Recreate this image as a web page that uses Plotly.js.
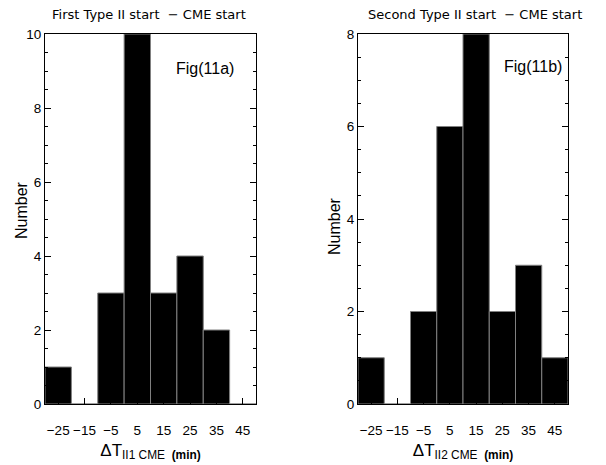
<!DOCTYPE html>
<html>
<head>
<meta charset="utf-8">
<script src="https://cdn.plot.ly/plotly-3.0.1.min.js"></script>
<style>html,body{margin:0;padding:0;background:#fff;}#chart{width:606px;height:465px;}</style>
</head>
<body>
<div id="chart"></div>
<script>
// Bin centres (minutes) and counts
const binCenters = [-25, -15, -5, 5, 15, 25, 35, 45];
const countsFirst = [1, 0, 3, 10, 3, 4, 2, 0];
const countsSecond = [1, 0, 2, 6, 8, 2, 3, 1];
const tickLabels = ["−25", "−15", "−5", "5", "15", "25", "35", "45"];
const titleFirst = "First Type II start  − CME start";
const titleSecond = "Second Type II start  − CME start";
const figLabelA = "Fig(11a)";
const figLabelB = "Fig(11b)";
const yTitle = "Number";

const W = 606, H = 465;
const px = v => v / W, py = v => 1 - v / H;
const font = "DejaVu Sans, Liberation Sans, sans-serif";
const font2 = "Liberation Sans, Arial, sans-serif";

const barStyle = {color: "#000", line: {color: "#808080", width: 1}};
const traces = [
  {type: "bar", x: binCenters, y: countsFirst, width: 10, marker: barStyle, xaxis: "x", yaxis: "y", hoverinfo: "x+y"},
  {type: "bar", x: binCenters, y: countsSecond, width: 10, marker: barStyle, xaxis: "x2", yaxis: "y2", hoverinfo: "x+y"}
];

function xAxis(domain, anchor, sub) {
  return {
    domain: domain, anchor: anchor, range: [-30, 50],
    tickmode: "array", tickvals: binCenters, ticktext: tickLabels,
    tickangle: 0,
    ticks: "inside", ticklen: 6, tickwidth: 1, tickcolor: "#000",
    showline: true, linecolor: "#000", linewidth: 1, mirror: true,
    showgrid: false, zeroline: false,
    ticklabelstandoff: 14,
    tickfont: {family: font2, size: 13.5, color: "#000"},
    title: {text: "ΔT<sub>" + sub + " CME  <b>(min)</b></sub>", font: {family: font2, size: 17, color: "#000"}, standoff: 6}
  };
}
function yAxis(domain, anchor, maxv) {
  return {
    domain: domain, anchor: anchor, range: [0, maxv],
    tickmode: "linear", tick0: 0, dtick: 2,
    ticks: "inside", ticklen: 6, tickwidth: 1, tickcolor: "#000",
    minor: {dtick: 0.5, ticks: "inside", ticklen: 3, tickcolor: "#000", showgrid: false},
    showline: true, linecolor: "#000", linewidth: 1, mirror: "allticks",
    showgrid: false, zeroline: false,
    tickfont: {family: font2, size: 13.5, color: "#000"}
  };
}

const yDom = [py(404), py(34)];
const ann = (text, x, y, size, fam, angle) => ({text: text, xref: "paper", yref: "paper", x: px(x), y: py(y), showarrow: false, xanchor: "center", yanchor: "middle", textangle: angle || 0, font: {family: fam, size: size, color: "#000"}});
const layout = {
  width: W, height: H,
  margin: {l: 0, r: 0, t: 0, b: 0},
  paper_bgcolor: "#fff", plot_bgcolor: "#fff",
  showlegend: false, bargap: 0,
  xaxis: xAxis([px(45), px(256)], "y", "II1"),
  yaxis: yAxis(yDom, "x", 10),
  xaxis2: xAxis([px(358), px(568)], "y2", "II2"),
  yaxis2: yAxis(yDom, "x2", 8),
  annotations: [
    ann(titleFirst, 149, 15, 13, font),
    ann(titleSecond, 475, 15, 13, font),
    ann(figLabelA, 205, 68, 16, font2),
    ann(figLabelB, 533, 67, 16, font2),
    ann(yTitle, 21, 210, 16, font2, -90),
    ann(yTitle, 334, 226, 16, font2, -90)
  ]
};

Plotly.newPlot("chart", traces, layout, {displayModeBar: false, staticPlot: true});
</script>
</body>
</html>
